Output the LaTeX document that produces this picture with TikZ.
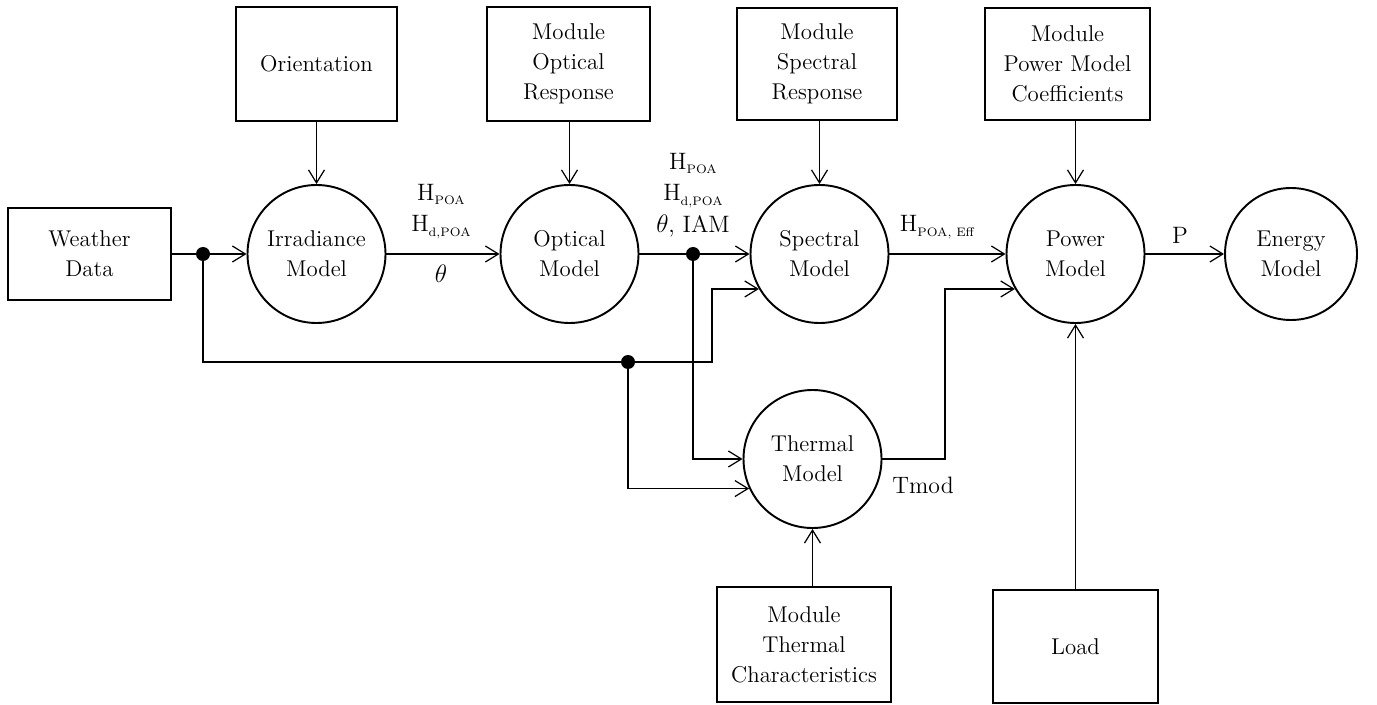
\documentclass[tikz,border=0pt]{standalone}
\usepackage{fontspec}
\usetikzlibrary{arrows.meta, calc}
\tikzset{
  every picture/.style={line width=0.7pt},
  txt/.style={font=\fontsize{13}{17}\selectfont},
  blk/.style={txt, draw, rectangle, line width=1.1pt, align=center, inner sep=2pt, minimum width=#1},
  blk/.default=3.26cm,
  model/.style={txt, draw, circle, line width=1.1pt, align=center, inner sep=0pt, minimum size=2.76cm},
  arrow/.style={-{Straight Barb[length=2.6mm, width=3.2mm]}},
  junction/.style={circle, fill, inner sep=0pt, minimum size=2.8mm},
  lbl/.style={align=center, inner sep=1pt, font=\fontsize{13.5}{18}\selectfont},
}
\newcommand{\Hsub}[1]{H\raisebox{-0.45ex}{\fontsize{7}{8}\selectfont #1}}

\begin{document}
\begin{tikzpicture}
  \useasboundingbox (0,0) rectangle (27.54,14.08);
  % input boxes
  \node[blk, minimum height=1.84cm] (weather) at (1.79,9.0) {Weather\\Data};
  \node[blk=3.22cm, minimum height=2.28cm] (orient) at (6.33,12.8) {Orientation};
  \node[blk, minimum height=2.28cm] (optresp) at (11.37,12.8) {Module\\Optical\\Response};
  \node[blk=3.2cm, minimum height=2.24cm] (specresp) at (16.34,12.8) {Module\\Spectral\\Response};
  \node[blk=3.3cm, minimum height=2.24cm] (powcoef) at (21.35,12.8) {Module\\Power Model\\Coefficients};
  \node[blk=3.48cm, minimum height=2.3cm] (thermchar) at (16.08,1.19) {Module\\Thermal\\Characteristics};
  \node[blk=3.3cm, minimum height=2.26cm] (load) at (21.51,1.15) {Load};
  % models
  \node[model] (irr) at (6.33,9.0) {Irradiance\\Model};
  \node[model] (opt) at (11.39,9.0) {Optical\\Model};
  \node[model] (spec) at (16.39,9.0) {Spectral\\Model};
  \node[model] (pow) at (21.51,9.0) {Power\\Model};
  \node[model, minimum size=2.64cm] (energy) at (25.82,9.0) {Energy\\Model};
  \node[model] (therm) at (16.25,4.9) {Thermal\\Model};
  % junctions and bends
  \coordinate (d1) at (4.06,9.0);
  \coordinate (d2) at (13.86,9.0);
  \coordinate (d3) at (12.56,6.84);
  \coordinate (k1) at (14.24,6.84);
  \coordinate (k2) at (18.9,4.9);
  % main chain
  \draw (weather) -- (d1);
  \draw[arrow] (d1) -- (irr);
  \draw[arrow] (irr) -- (opt);
  \draw (opt) -- (d2);
  \draw[arrow] (d2) -- (spec);
  \draw[arrow] (spec) -- (pow);
  \draw[arrow] (pow) -- (energy);
  % side inputs
  \draw[arrow] (orient) -- (irr);
  \draw[arrow] (opt |- optresp.south) -- (opt);
  \draw[arrow] (spec |- specresp.south) -- (spec);
  \draw[arrow] (pow |- powcoef.south) -- (pow);
  \draw[arrow] (pow |- load.north) -- (pow);
  \draw[arrow] (therm |- thermchar.north) -- (therm);
  % feedthrough lines
  \draw (d1) |- (d3);
  \draw[arrow] (d3) -- (k1) |- (spec.210);
  \draw[arrow] (d3) |- (therm.205);
  \draw[arrow] (d2) |- (therm.west);
  \draw[arrow] (therm) -- (k2) |- (pow.210);
  \foreach \d in {d1,d2,d3} \node[junction] at (\d) {};
  % labels
  \node[lbl] (lirr) at (8.82,9.85) {\Hsub{POA}\\\Hsub{d,POA}};
  \node[lbl] (ltheta) at (8.82,8.6) {$\theta$};
  \node[lbl] (lopt) at (13.86,10.18) {\Hsub{POA}\\\Hsub{d,POA}\\$\theta$, IAM};
  \node[lbl] (lspec) at (18.74,9.54) {\Hsub{POA, Eff}};
  \node[lbl] (lpow) at (23.6,9.38) {P};
  \node[lbl] (ltmod) at (18.46,4.38) {Tmod};
\end{tikzpicture}
\end{document}
